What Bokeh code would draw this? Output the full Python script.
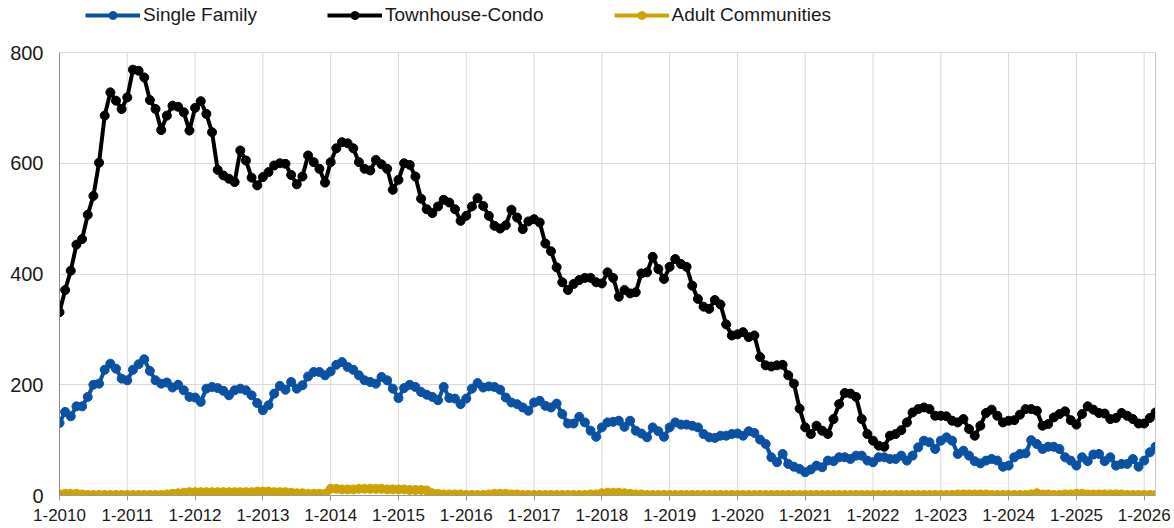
from bokeh.plotting import figure
from bokeh.models import Range1d, FixedTicker, Legend, LegendItem, ColumnDataSource, LinearAxis
from bokeh.embed import file_html
from bokeh.resources import INLINE

# ---- data (monthly, Jan 2010 .. Mar 2026) ----
years = list(range(2010, 2027))
tick_labels = [f"1-{y}" for y in years]
y_ticks = [0, 200, 400, 600, 800]

single_family = [
    131, 151, 143, 161, 161, 178, 200, 202, 227, 238, 229, 211,
    208, 227, 237, 246, 225, 208, 202, 204, 195, 200, 190, 178,
    177, 169, 193, 196, 194, 189, 181, 190, 193, 190, 181, 167,
    154, 163, 184, 198, 191, 205, 193, 199, 215, 223, 223, 217,
    224, 236, 241, 232, 227, 217, 208, 205, 202, 214, 208, 193,
    176, 194, 200, 196, 187, 182, 178, 172, 196, 176, 175, 165,
    175, 193, 203, 195, 197, 196, 191, 177, 168, 165, 159, 153,
    168, 171, 162, 159, 166, 147, 130, 130, 142, 132, 117, 106,
    123, 132, 133, 135, 124, 135, 117, 112, 105, 123, 116, 106,
    123, 132, 128, 128, 126, 123, 111, 105, 104, 108, 108, 111,
    112, 108, 116, 113, 101, 93, 69, 60, 75, 57, 52, 48,
    42, 47, 54, 51, 63, 62, 69, 69, 66, 72, 72, 63,
    60, 69, 69, 66, 66, 72, 63, 72, 87, 99, 96, 84,
    99, 105, 99, 75, 81, 72, 62, 58, 63, 66, 63, 52,
    54, 69, 75, 76, 100, 93, 84, 88, 88, 84, 69, 63,
    54, 69, 62, 74, 75, 62, 69, 54, 57, 57, 66, 52,
    63, 78, 88,
]

townhouse_condo = [
    331, 371, 406, 453, 463, 507, 541, 601, 686, 728, 713, 698,
    719, 769, 767, 755, 714, 698, 660, 686, 704, 702, 692, 659,
    700, 712, 689, 656, 588, 578, 572, 566, 623, 605, 574, 560,
    575, 584, 596, 600, 599, 579, 562, 576, 614, 602, 590, 565,
    602, 627, 638, 636, 627, 602, 590, 587, 606, 598, 590, 552,
    570, 600, 597, 576, 536, 517, 510, 522, 534, 529, 517, 496,
    505, 522, 537, 523, 505, 487, 482, 488, 516, 502, 481, 495,
    499, 493, 455, 441, 412, 385, 371, 382, 389, 393, 393, 385,
    383, 403, 393, 359, 371, 365, 367, 401, 403, 431, 409, 391,
    413, 427, 418, 413, 379, 355, 341, 337, 353, 345, 309, 289,
    291, 295, 286, 289, 250, 235, 233, 235, 236, 217, 202, 157,
    123, 111, 126, 117, 111, 138, 165, 185, 184, 178, 138, 111,
    99, 90, 88, 108, 111, 118, 132, 150, 156, 159, 156, 144,
    144, 143, 135, 132, 138, 120, 108, 126, 149, 155, 144, 132,
    135, 136, 146, 156, 156, 153, 126, 129, 141, 147, 152, 136,
    128, 147, 161, 155, 149, 148, 138, 140, 149, 144, 138, 130,
    130, 140, 150,
]

adult_communities = [
    2, 3, 3, 3, 2, 1, 1, 1, 1, 1, 1, 1,
    1, 1, 1, 1, 1, 1, 1, 2, 3, 4, 5, 6,
    6, 6, 6, 6, 6, 6, 6, 6, 6, 6, 6, 7,
    7, 7, 6, 6, 6, 5, 4, 4, 3, 3, 3, 3,
    12, 12, 11, 11, 11, 12, 12, 12, 12, 12, 11, 11,
    11, 11, 10, 10, 10, 9, 4, 3, 2, 2, 2, 2,
    1, 1, 1, 1, 2, 3, 3, 3, 2, 2, 1, 1,
    1, 1, 1, 1, 1, 1, 1, 1, 1, 1, 2, 2,
    4, 5, 5, 5, 4, 3, 2, 2, 1, 1, 1, 1,
    1, 1, 1, 1, 1, 1, 1, 1, 1, 1, 1, 1,
    1, 1, 1, 1, 1, 1, 1, 1, 1, 1, 1, 1,
    1, 1, 1, 1, 1, 1, 1, 1, 1, 1, 1, 1,
    1, 1, 1, 1, 1, 1, 1, 1, 1, 1, 1, 1,
    1, 1, 1, 2, 2, 2, 2, 2, 2, 1, 1, 1,
    1, 1, 1, 1, 2, 4, 2, 2, 1, 1, 2, 2,
    3, 3, 2, 2, 2, 2, 2, 2, 2, 1, 1, 1,
    1, 1, 1,
]

series_names = ["Single Family", "Townhouse-Condo", "Adult Communities"]
series_colors = ["#0B51A3", "#000000", "#CCA300"]

n = len(townhouse_condo)
month_index = list(range(n))
year_ticks = [12 * i for i in range(len(years))]

FONT = "Liberation Sans"
GRID = "#d9d9d9"

# frame spans from the top of the canvas (room for the legend) down to the x axis;
# the value 800 sits 52px below the top edge.
FRAME_H = 495
TOP_GAP = 52
y_top = max(y_ticks) * FRAME_H / (FRAME_H - TOP_GAP)

p = figure(width=1174, height=528, output_backend="svg", toolbar_location=None,
           x_range=Range1d(0, n - 1), y_range=Range1d(0, y_top),
           min_border_left=59, min_border_top=0, min_border_bottom=33, min_border_right=19)
p.background_fill_color = "white"
p.border_fill_color = "white"
p.outline_line_color = None

# x axis
p.xaxis.ticker = FixedTicker(ticks=year_ticks)
p.xaxis.major_label_overrides = {t: lab for t, lab in zip(year_ticks, tick_labels)}
p.xaxis.major_tick_out = 5
p.xaxis.major_tick_in = 0
p.xaxis.minor_tick_out = 0
p.xaxis.minor_tick_in = 0
p.xaxis.major_label_standoff = 8
p.xaxis.axis_line_color = "#999999"
p.xaxis.major_tick_line_color = "#999999"
p.xaxis.major_label_text_font_size = "17px"

# y axis
p.yaxis.ticker = FixedTicker(ticks=y_ticks)
p.yaxis.bounds = (min(y_ticks), max(y_ticks))
p.yaxis.major_tick_out = 0
p.yaxis.major_tick_in = 0
p.yaxis.minor_tick_out = 0
p.yaxis.minor_tick_in = 0
p.yaxis.major_label_standoff = 16
p.yaxis.axis_line_color = "#8c8c8c"
p.yaxis.major_label_text_font_size = "20px"

for ax in (p.xaxis, p.yaxis):
    ax.major_label_text_font = FONT
    ax.major_label_text_color = "#1a1a1a"

# right border of the plot area
right_axis = LinearAxis(ticker=FixedTicker(ticks=[]), bounds=(min(y_ticks), max(y_ticks)),
                        axis_line_color="#c8c8c8", major_tick_out=0, major_tick_in=0,
                        minor_tick_out=0, minor_tick_in=0)
p.add_layout(right_axis, "right")

# grid
p.xgrid.visible = False
p.ygrid.ticker = FixedTicker(ticks=y_ticks)
p.ygrid.grid_line_color = GRID
p.segment(x0=year_ticks, y0=[min(y_ticks)] * len(year_ticks),
          x1=year_ticks, y1=[max(y_ticks)] * len(year_ticks),
          line_color=GRID, line_width=1)

items = []
for name, vals, col in zip(series_names, [single_family, townhouse_condo, adult_communities], series_colors):
    src = ColumnDataSource(dict(x=month_index, y=vals))
    r1 = p.line("x", "y", source=src, line_color=col, line_width=4)
    r2 = p.scatter("x", "y", source=src, size=9, fill_color=col, line_color=col)
    items.append(LegendItem(label=name, renderers=[r1, r2]))

legend = Legend(items=items, orientation="horizontal", location=(26, FRAME_H - 26),
                glyph_width=55, glyph_height=20, label_standoff=3, spacing=70,
                padding=0, margin=0, border_line_color=None, background_fill_alpha=0,
                label_text_font=FONT, label_text_font_size="19px", label_text_color="#1a1a1a")
p.add_layout(legend)

open("out.html", "w").write(file_html(p, INLINE))
